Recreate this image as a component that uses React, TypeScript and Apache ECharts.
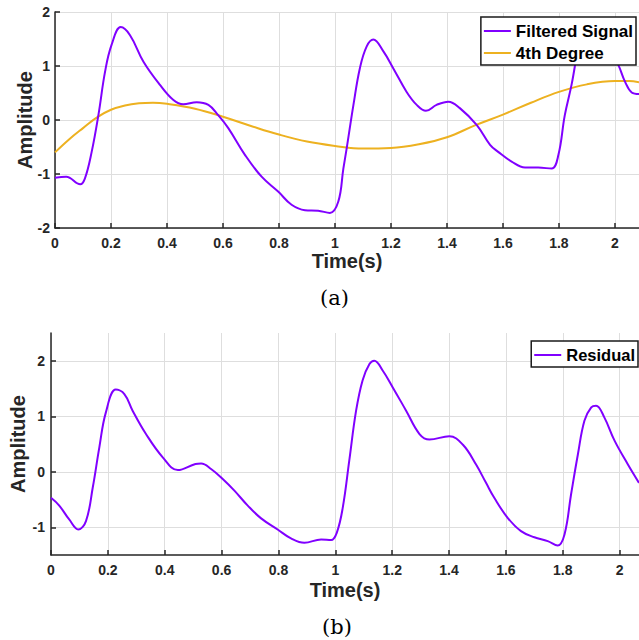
import React, { useEffect, useRef } from 'react';
import * as echarts from 'echarts';

// ---- Data ----
const filteredTime = [0, 0.04, 0.09, 0.107, 0.131, 0.155, 0.179, 0.202, 0.235, 0.268, 0.316, 0.375, 0.423, 0.458, 0.506, 0.548, 0.583, 0.619, 0.679, 0.738, 0.798, 0.845, 0.893, 0.94, 0.982, 1.012, 1.03, 1.042, 1.066, 1.089, 1.113, 1.137, 1.173, 1.208, 1.256, 1.292, 1.325, 1.363, 1.405, 1.446, 1.506, 1.554, 1.583, 1.631, 1.679, 1.726, 1.774, 1.798, 1.821, 1.845, 1.876, 1.9, 1.917, 1.946, 1.982, 2.012, 2.036, 2.06, 2.086];
const filteredValues = [-1.07, -1.05, -1.19, -1.08, -0.59, 0.09, 0.9, 1.39, 1.72, 1.57, 1.08, 0.65, 0.37, 0.29, 0.33, 0.28, 0.09, -0.15, -0.65, -1.05, -1.33, -1.57, -1.67, -1.68, -1.72, -1.51, -0.9, -0.52, 0.28, 0.96, 1.36, 1.49, 1.27, 0.96, 0.52, 0.28, 0.17, 0.28, 0.34, 0.22, -0.09, -0.46, -0.59, -0.77, -0.88, -0.88, -0.9, -0.65, 0.09, 0.65, 1.5, 1.8, 1.86, 1.68, 1.28, 1.02, 0.71, 0.51, 0.48];

const polyTime = [0, 0.05, 0.1, 0.15, 0.2, 0.25, 0.3, 0.35, 0.4, 0.5, 0.6, 0.7, 0.8, 0.9, 1.0, 1.1, 1.2, 1.3, 1.4, 1.5, 1.6, 1.7, 1.8, 1.9, 2.0, 2.05, 2.086];
const polyValues = [-0.6, -0.36, -0.15, 0.05, 0.19, 0.27, 0.31, 0.32, 0.3, 0.21, 0.06, -0.11, -0.27, -0.4, -0.48, -0.53, -0.52, -0.45, -0.32, -0.1, 0.1, 0.32, 0.52, 0.66, 0.72, 0.72, 0.7];

const residualTime = [0, 0.029, 0.064, 0.096, 0.123, 0.147, 0.17, 0.193, 0.228, 0.258, 0.287, 0.334, 0.393, 0.446, 0.508, 0.528, 0.563, 0.604, 0.645, 0.692, 0.739, 0.797, 0.844, 0.891, 0.95, 0.985, 1.005, 1.026, 1.049, 1.073, 1.096, 1.12, 1.137, 1.167, 1.202, 1.249, 1.296, 1.331, 1.401, 1.448, 1.495, 1.53, 1.559, 1.606, 1.653, 1.7, 1.747, 1.782, 1.806, 1.829, 1.853, 1.876, 1.9, 1.917, 1.946, 1.982, 2.028, 2.068];
const residualValues = [-0.47, -0.61, -0.86, -1.04, -0.89, -0.28, 0.44, 1.07, 1.48, 1.4, 1.1, 0.68, 0.26, 0.03, 0.14, 0.15, 0.05, -0.13, -0.34, -0.61, -0.84, -1.04, -1.2, -1.28, -1.22, -1.23, -1.1, -0.65, 0.2, 1.1, 1.65, 1.94, 2.0, 1.82, 1.52, 1.1, 0.68, 0.58, 0.64, 0.49, 0.13, -0.2, -0.47, -0.83, -1.07, -1.18, -1.25, -1.33, -1.13, -0.41, 0.31, 0.92, 1.16, 1.19, 0.98, 0.56, 0.14, -0.2];

const timeTicks = [0, 0.2, 0.4, 0.6, 0.8, 1, 1.2, 1.4, 1.6, 1.8, 2];
const topAmplitudeTicks = [-2, -1, 0, 1, 2];
const bottomAmplitudeTicks = [-1, 0, 1, 2];

const seriesNames = ['Filtered Signal', '4th Degree', 'Residual'];
const panelLabels = ['(a)', '(b)'];

const PURPLE = '#8000FF';
const ORANGE = '#EDB120';
const DARK = '#262626';
const GRID = '#dedede';
const SANS = '"Liberation Sans", Arial, sans-serif';

function pairs(t: number[], v: number[]) {
  return t.map((x, i) => [x, v[i]]);
}

function xAxisCfg(gridIndex: number, max: number, nameGap: number, ticks: number[]) {
  return {
    type: 'value',
    gridIndex,
    min: 0,
    max,
    name: 'Time(s)',
    nameLocation: 'middle',
    nameGap,
    nameMoveOverlap: false,
    nameTextStyle: { color: DARK, fontSize: 20, fontWeight: 'bold', fontFamily: SANS, lineHeight: 20 },
    axisLine: { show: true, onZero: false, lineStyle: { color: DARK, width: 1.5 } },
    axisTick: { show: true, inside: true, length: 5, customValues: ticks, lineStyle: { color: DARK, width: 1.5 } },
    axisLabel: { show: true, customValues: ticks, margin: 8, lineHeight: 14, color: DARK, fontSize: 14, fontWeight: 'bold', fontFamily: SANS },
    splitLine: { show: true, customValues: ticks, lineStyle: { color: GRID, width: 1 } },
  };
}

function yAxisCfg(gridIndex: number, min: number, max: number, nameGap: number, margin: number, ticks: number[]) {
  return {
    type: 'value',
    gridIndex,
    min,
    max,
    name: 'Amplitude',
    nameLocation: 'middle',
    nameGap,
    nameMoveOverlap: false,
    nameTextStyle: { color: DARK, fontSize: 20, fontWeight: 'bold', fontFamily: SANS, lineHeight: 20 },
    axisLine: { show: true, onZero: false, lineStyle: { color: DARK, width: 1.5 } },
    axisTick: { show: true, inside: true, length: 5, customValues: ticks, lineStyle: { color: DARK, width: 1.5 } },
    axisLabel: { show: true, customValues: ticks, margin, color: DARK, fontSize: 14, fontWeight: 'bold', fontFamily: SANS },
    splitLine: { show: true, customValues: ticks, lineStyle: { color: GRID, width: 1 } },
  };
}

const legendBase = {
  orient: 'vertical',
  backgroundColor: '#ffffff',
  borderColor: '#1a1a1a',
  borderWidth: 1.5,
  borderRadius: 0,
  icon: 'rect',
  itemWidth: 27,
  itemHeight: 2,
  itemGap: 4,
  padding: [5, 3, 3, 3],
  textStyle: { color: '#000', fontSize: 17, fontWeight: 'bold', fontFamily: SANS, lineHeight: 18 },
};

export default function App() {
  const ref = useRef<HTMLDivElement>(null);

  useEffect(() => {
    if (!ref.current) return;
    const chart = echarts.init(ref.current, undefined, { renderer: 'svg' });
    const option: any = {
      animation: false,
      backgroundColor: '#ffffff',
      grid: [
        { left: 55, top: 12, width: 584, height: 216, containLabel: false },
        { left: 51, top: 333, width: 588, height: 222, containLabel: false },
      ],
      xAxis: [
        xAxisCfg(0, 2.086, 23, timeTicks),
        xAxisCfg(1, 2.068, 25, timeTicks),
      ],
      yAxis: [
        yAxisCfg(0, -2, 2, 20, 5, topAmplitudeTicks),
        yAxisCfg(1, -1.5, 2.5, 23, 6, bottomAmplitudeTicks),
      ],
      legend: [
        { ...legendBase, right: 3, top: 17, data: [seriesNames[0], seriesNames[1]] },
        { ...legendBase, right: 1, top: 341, textStyle: { ...legendBase.textStyle, fontSize: 16.5 }, data: [seriesNames[2]] },
      ],
      graphic: [
        {
          type: 'text',
          style: { text: panelLabels[0], fontSize: 21, fontFamily: '"DejaVu Serif", serif', fill: '#000' },
          left: 320,
          top: 287,
        },
        {
          type: 'text',
          style: { text: panelLabels[1], fontSize: 21, fontFamily: '"DejaVu Serif", serif', fill: '#000' },
          left: 322,
          top: 616,
        },
      ],
      series: [
        {
          name: seriesNames[0],
          type: 'line',
          xAxisIndex: 0,
          yAxisIndex: 0,
          data: pairs(filteredTime, filteredValues),
          smooth: 0.4,
          symbol: 'none',
          lineStyle: { color: PURPLE, width: 2 },
          itemStyle: { color: PURPLE },
          z: 3,
        },
        {
          name: seriesNames[1],
          type: 'line',
          xAxisIndex: 0,
          yAxisIndex: 0,
          data: pairs(polyTime, polyValues),
          smooth: 0.4,
          symbol: 'none',
          lineStyle: { color: ORANGE, width: 2 },
          itemStyle: { color: ORANGE },
          z: 2,
        },
        {
          name: seriesNames[2],
          type: 'line',
          xAxisIndex: 1,
          yAxisIndex: 1,
          data: pairs(residualTime, residualValues),
          smooth: 0.4,
          symbol: 'none',
          lineStyle: { color: PURPLE, width: 2 },
          itemStyle: { color: PURPLE },
        },
      ],
    };
    chart.setOption(option);
    return () => chart.dispose();
  }, []);

  return (
    <div
      ref={ref}
      style={{ position: 'absolute', left: 0, top: 0, width: 639, height: 640, background: '#fff' }}
    />
  );
}
